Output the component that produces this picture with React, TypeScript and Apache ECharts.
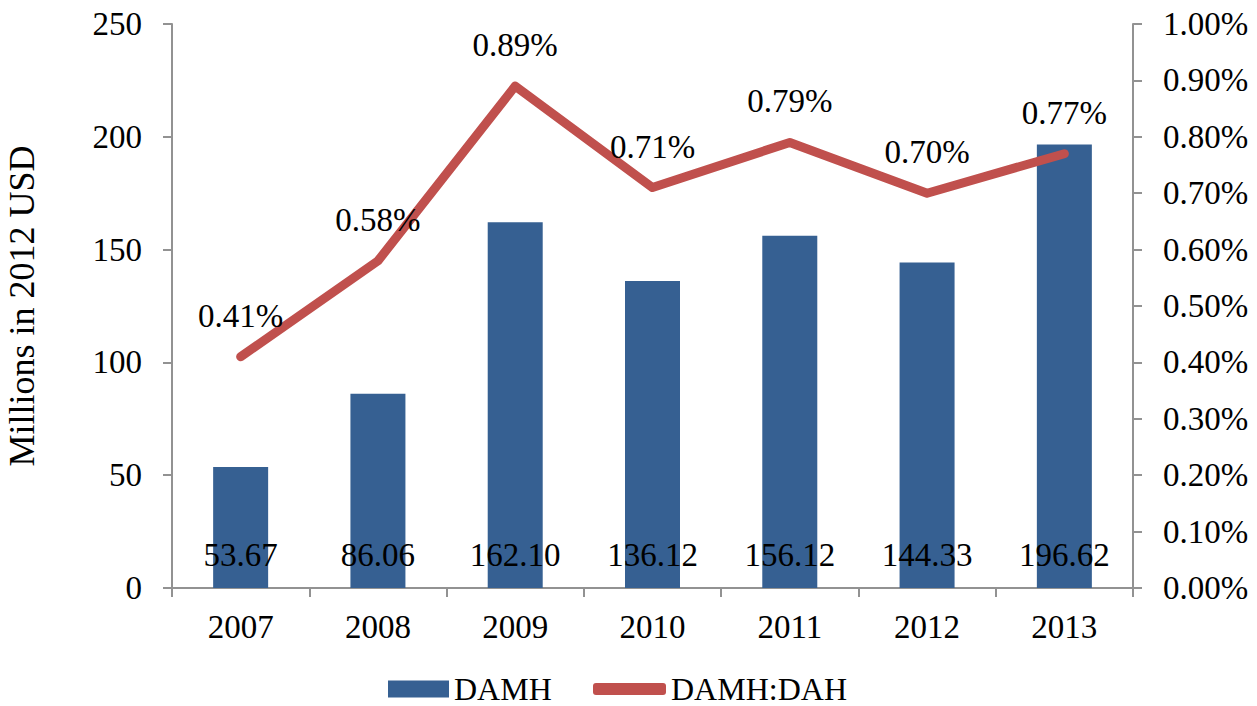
import React, { useEffect, useRef } from "react";
import * as echarts from "echarts";

const years = ["2007", "2008", "2009", "2010", "2011", "2012", "2013"];
const damh = [53.67, 86.06, 162.1, 136.12, 156.12, 144.33, 196.62];
const ratio = [0.41, 0.58, 0.89, 0.71, 0.79, 0.7, 0.77];
const barName = "DAMH";
const lineName = "DAMH:DAH";
const yAxisTitle = "Millions in 2012 USD";

const FONT = "'Liberation Serif', 'Times New Roman', serif";
const FS = 33;
const AXIS_COLOR = "#929292";

export default function App() {
  const ref = useRef<HTMLDivElement>(null);
  useEffect(() => {
    if (!ref.current) return;
    const chart = echarts.init(ref.current, undefined, { renderer: "svg" });
    const axisLine = { show: true, lineStyle: { color: AXIS_COLOR, width: 2 } };
    const axisTick = { show: true, length: 9, lineStyle: { color: AXIS_COLOR, width: 2 } };
    chart.setOption({
      animation: false,
      textStyle: { fontFamily: FONT },
      grid: { left: 172, right: 124, top: 24, bottom: 118, containLabel: false, outerBoundsMode: "none" },
      legend: [
        {
          data: [{ name: barName, icon: "rect" }],
          left: 388,
          top: 673,
          padding: 0,
          itemWidth: 61,
          itemHeight: 17,
          itemGap: 0,
          textStyle: { fontFamily: FONT, fontSize: 32, lineHeight: 28, color: "#000" },
          selectedMode: false,
        },
        {
          data: [{ name: lineName, icon: "roundRect" }],
          left: 593,
          top: 673,
          padding: 0,
          itemWidth: 73,
          itemHeight: 12,
          textStyle: { fontFamily: FONT, fontSize: 32, lineHeight: 28, color: "#000" },
          selectedMode: false,
        },
      ],
      xAxis: {
        type: "category",
        data: years,
        axisLine,
        axisTick,
        axisLabel: { fontFamily: FONT, fontSize: FS, color: "#000", margin: 22 },
        splitLine: { show: false },
      },
      yAxis: [
        {
          type: "value",
          min: 0,
          max: 250,
          interval: 50,
          name: yAxisTitle,
          nameLocation: "middle",
          nameGap: 132,
          nameRotate: 90,
          nameTextStyle: { fontFamily: FONT, fontSize: 36, color: "#000" },
          axisLine,
          axisTick,
          axisLabel: { fontFamily: FONT, fontSize: FS, color: "#000", margin: 30 },
          splitLine: { show: false },
        },
        {
          type: "value",
          min: 0,
          max: 1,
          interval: 0.1,
          position: "right",
          axisLine,
          axisTick,
          axisLabel: {
            fontFamily: FONT,
            fontSize: FS,
            color: "#000",
            margin: 30,
            formatter: (v: number) => v.toFixed(2) + "%",
          },
          splitLine: { show: false },
        },
      ],
      series: [
        {
          name: barName,
          type: "bar",
          data: damh,
          barWidth: 55,
          itemStyle: { color: "#366092" },
          label: {
            show: true,
            position: "insideBottom",
            distance: 17,
            fontFamily: FONT,
            fontSize: FS,
            color: "#000",
            formatter: (p: any) => p.value.toFixed(2),
          },
        },
        {
          name: lineName,
          type: "line",
          yAxisIndex: 1,
          data: ratio,
          symbol: "circle",
          symbolSize: 1,
          showSymbol: true,
          lineStyle: { color: "#C0504D", width: 9, cap: "round", join: "round" },
          itemStyle: { color: "#C0504D" },
          label: {
            show: true,
            position: "top",
            distance: 24,
            fontFamily: FONT,
            fontSize: FS,
            color: "#000",
            formatter: (p: any) => p.value.toFixed(2) + "%",
          },
          labelLayout: { hideOverlap: false },
          z: 5,
        },
      ],
    });
    return () => chart.dispose();
  }, []);
  return <div ref={ref} style={{ width: 1257, height: 706, position: "absolute", left: 0, top: 0 }} />;
}
